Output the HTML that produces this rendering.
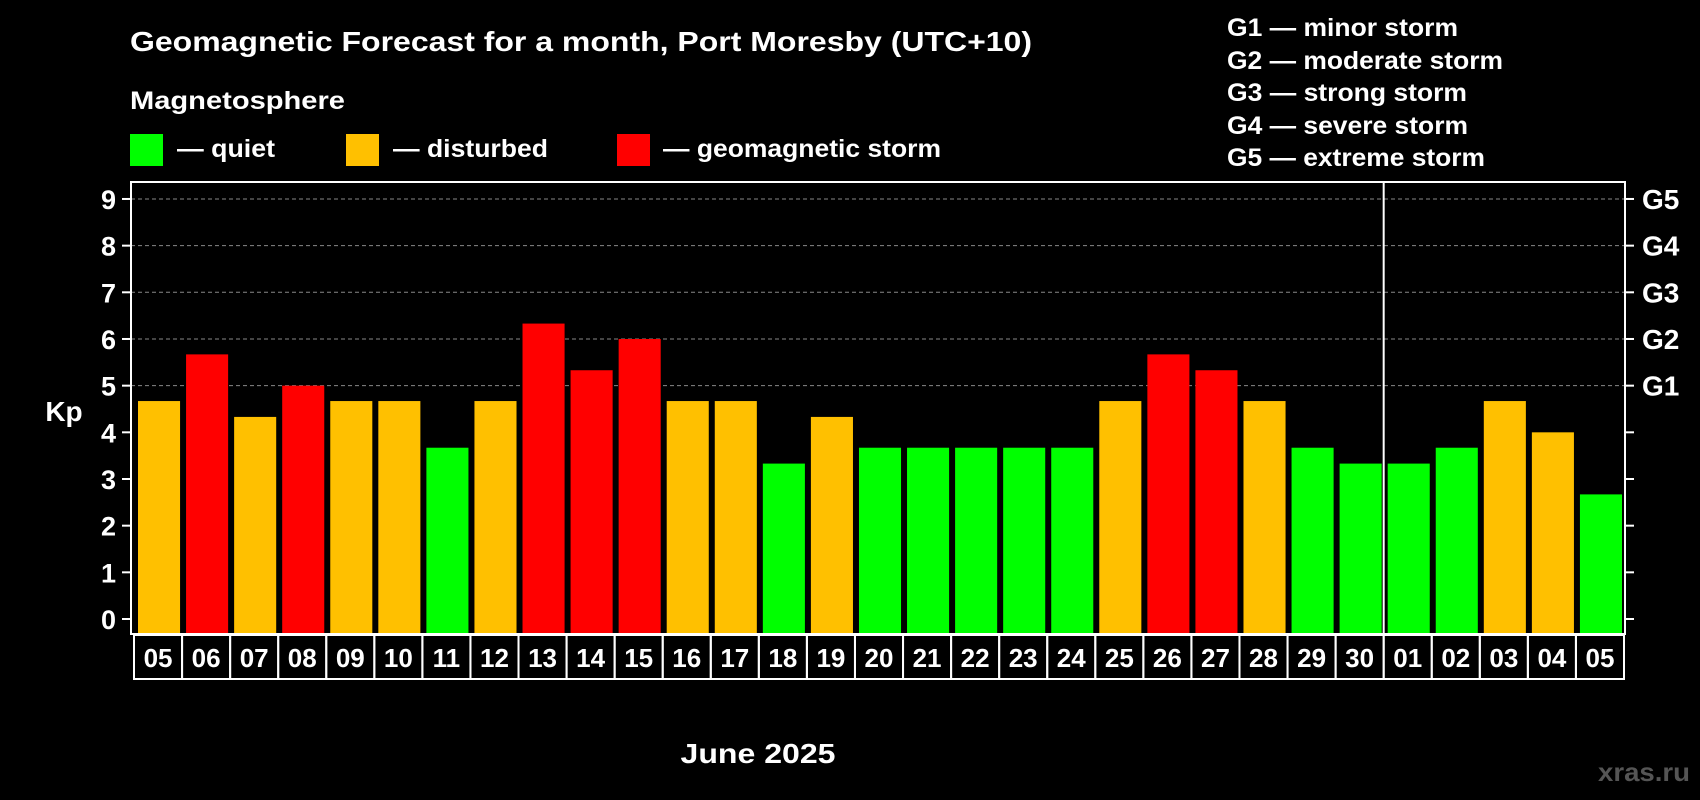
<!DOCTYPE html>
<html><head><meta charset="utf-8"><style>
html,body{margin:0;padding:0;background:#000;width:1700px;height:800px;overflow:hidden}
svg{display:block;font-family:"Liberation Sans",Arial,sans-serif;font-weight:bold}
</style></head><body>
<svg id="chart" width="1700" height="800" xmlns="http://www.w3.org/2000/svg">
<rect width="1700" height="800" fill="#000"/>
<text x="130" y="51" fill="#fff" font-size="28" textLength="902" lengthAdjust="spacingAndGlyphs">Geomagnetic Forecast for a month, Port Moresby (UTC+10)</text>
<text x="130" y="109" fill="#fff" font-size="25" textLength="215" lengthAdjust="spacingAndGlyphs">Magnetosphere</text>
<g><rect x="130" y="134" width="33" height="32" fill="#00ff00"/><text x="177" y="157" fill="#fff" font-size="25" textLength="98" lengthAdjust="spacingAndGlyphs">— quiet</text></g>
<g><rect x="346" y="134" width="33" height="32" fill="#ffc000"/><text x="393" y="157" fill="#fff" font-size="25" textLength="155" lengthAdjust="spacingAndGlyphs">— disturbed</text></g>
<g><rect x="617" y="134" width="33" height="32" fill="#ff0000"/><text x="663" y="157" fill="#fff" font-size="25" textLength="278" lengthAdjust="spacingAndGlyphs">— geomagnetic storm</text></g>
<g fill="#fff" font-size="25">
<text x="1227" y="36" textLength="231" lengthAdjust="spacingAndGlyphs">G1 — minor storm</text>
<text x="1227" y="69" textLength="276" lengthAdjust="spacingAndGlyphs">G2 — moderate storm</text>
<text x="1227" y="101" textLength="240" lengthAdjust="spacingAndGlyphs">G3 — strong storm</text>
<text x="1227" y="134" textLength="241" lengthAdjust="spacingAndGlyphs">G4 — severe storm</text>
<text x="1227" y="166" textLength="258" lengthAdjust="spacingAndGlyphs">G5 — extreme storm</text>
</g>
<text x="64" y="421" fill="#fff" font-size="28" text-anchor="middle">Kp</text>
<text x="758" y="763" fill="#fff" font-size="28" text-anchor="middle" textLength="155" lengthAdjust="spacingAndGlyphs">June 2025</text>
<text x="1690" y="781" fill="#555" font-size="26" text-anchor="end" textLength="92" lengthAdjust="spacingAndGlyphs">xras.ru</text>
<g id="grid"></g><g id="bars"></g><g id="axes"></g>
</svg>
<script>
const days=["05","06","07","08","09","10","11","12","13","14","15","16","17","18","19","20","21","22","23","24","25","26","27","28","29","30","01","02","03","04","05"];
const kp=[4.67,5.67,4.33,5,4.67,4.67,3.67,4.67,6.33,5.33,6,4.67,4.67,3.33,4.33,3.67,3.67,3.67,3.67,3.67,4.67,5.67,5.33,4.67,3.67,3.33,3.33,3.67,4.67,4,2.67];
const yTicks=[0,1,2,3,4,5,6,7,8,9];
const gLabels=["G1","G2","G3","G4","G5"];
const L=131,R=1625,T=182,B=634;
const NS="http://www.w3.org/2000/svg";
const slot=(R-L-4)/days.length, x0=L+3;
const y=v=>619-v*46.67;
const xs=i=>x0+i*slot;
function mk(t,a,p){const e=document.createElementNS(NS,t);for(const k in a)e.setAttribute(k,a[k]);p.appendChild(e);return e;}
const grid=document.getElementById('grid'),bars=document.getElementById('bars'),axes=document.getElementById('axes');
yTicks.forEach(v=>{
  if(v>=5){const l=mk('line',{x1:L,x2:R,y1:y(v),y2:y(v),stroke:'#888','stroke-dasharray':'4 3'},grid);
  
  }
  const t1=mk('line',{x1:122,x2:L,y1:y(v),y2:y(v),stroke:'#fff','stroke-width':2},axes);
  
  
  const lb=mk('text',{x:116,y:y(v)+10,fill:'#fff','font-size':27,'text-anchor':'end'},axes);lb.textContent=v;
  
  
  const t2=mk('line',{x1:R,x2:1634,y1:y(v),y2:y(v),stroke:'#fff','stroke-width':2},axes);
  
  
});
gLabels.forEach((g,i)=>{const t=mk('text',{x:1642,y:y(5+i)+10,fill:'#fff','font-size':28},axes);t.textContent=g;
  
  });
kp.forEach((v,i)=>{
  const c=v<4?'#00ff00':(v<5?'#ffc000':'#ff0000');
  const r=mk('rect',{x:xs(i)+4,y:y(v),width:slot-6,height:B-1-y(v),fill:c},bars);
  
  
  const cell=mk('rect',{x:xs(i),y:B+1,width:slot,height:44,fill:'none',stroke:'#fff','stroke-width':2},axes);
  
  
  const t=mk('text',{x:xs(i)+slot/2,y:B+33,fill:'#fff','font-size':26,'text-anchor':'middle'},axes);t.textContent=days[i];
  
  
});
const fr=mk('rect',{x:L,y:T,width:R-L,height:B-T,fill:'none',stroke:'#fff','stroke-width':2},axes);


const sx=xs(26);
const sep=mk('line',{x1:sx,x2:sx,y1:T,y2:B,stroke:'#fff','stroke-width':2},axes);


</script>
</body></html>
